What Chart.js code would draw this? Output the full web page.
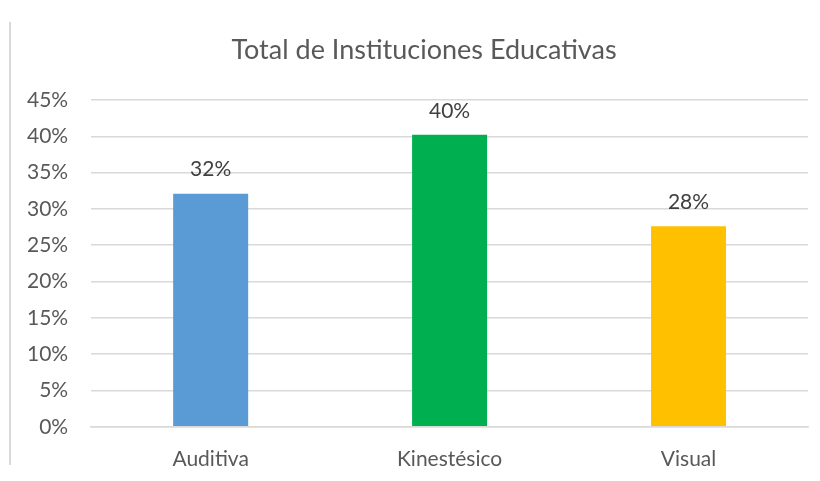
<!DOCTYPE html>
<html>
<head>
<meta charset="utf-8">
<script src="https://cdn.jsdelivr.net/npm/chart.js@4"></script>
<style>
    html, body { margin: 0; padding: 0; background: #fff; overflow: hidden; }
    .frame {
        position: absolute; left: 9px; top: 22px; width: 0; height: 443px;
        border-left: 2px solid #d9d9d9;
    }
    #chart { position: absolute; left: 0; top: 0; }
</style>
</head>
<body>
<div class="frame"></div>
<canvas id="chart" width="820" height="492"></canvas>
<script>
const categories = ["Auditiva", "Kinestésico", "Visual"];
const values = [32.1, 40.2, 27.6];
const barColors = ["#5b9bd5", "#00b050", "#ffc000"];
const chartTitle = "Total de Instituciones Educativas";

const FONT = "Lato, 'Open Sans', sans-serif";

// Title is drawn by hand so it can sit slightly right of the canvas centre, like the Excel original.
const titleText = {
    id: "titleText",
    afterDraw(chart) {
        const ctx = chart.ctx;
        ctx.save();
        ctx.font = "27px " + FONT;
        ctx.fillStyle = "#595959";
        ctx.textAlign = "center";
        ctx.textBaseline = "middle";
        ctx.fillText(chartTitle, 424, 50);
        ctx.restore();
    },
};

// Draws the rounded percentage above each bar (Excel-style data labels).
const valueLabels = {
    id: "valueLabels",
    afterDatasetsDraw(chart) {
        const ctx = chart.ctx;
        const meta = chart.getDatasetMeta(0);
        ctx.save();
        ctx.font = "21px " + FONT;
        ctx.fillStyle = "#404040";
        ctx.textAlign = "center";
        ctx.textBaseline = "middle";
        meta.data.forEach((bar, i) => {
            ctx.fillText(Math.round(values[i]) + "%", bar.x, bar.y - 24);
        });
        ctx.restore();
    },
};

new Chart(document.getElementById("chart"), {
    type: "bar",
    data: {
        labels: categories,
        datasets: [
            {
                data: values,
                backgroundColor: barColors,
                borderWidth: 0,
                categoryPercentage: 1,
                barPercentage: 0.314,
            },
        ],
    },
    options: {
        responsive: false,
        animation: false,
        layout: { padding: { left: 4, right: 12, top: 100, bottom: 0 } },
        plugins: {
            legend: { display: false },
            tooltip: { enabled: false },
            title: { display: false },
        },
        scales: {
            y: {
                min: 0,
                max: 45,
                ticks: {
                    stepSize: 5,
                    color: "#595959",
                    font: { family: FONT, size: 21 },
                    padding: 23,
                    callback: (v) => v + "%",
                },
                grid: { color: "#d9d9d9", lineWidth: 1.5, drawTicks: false },
                border: { display: false },
            },
            x: {
                ticks: {
                    color: "#595959",
                    font: { family: FONT, size: 21 },
                    padding: 20,
                },
                grid: { display: false, drawTicks: false },
                border: { color: "#d9d9d9", width: 1.5 },
            },
        },
    },
    plugins: [valueLabels, titleText],
});
</script>
</body>
</html>
